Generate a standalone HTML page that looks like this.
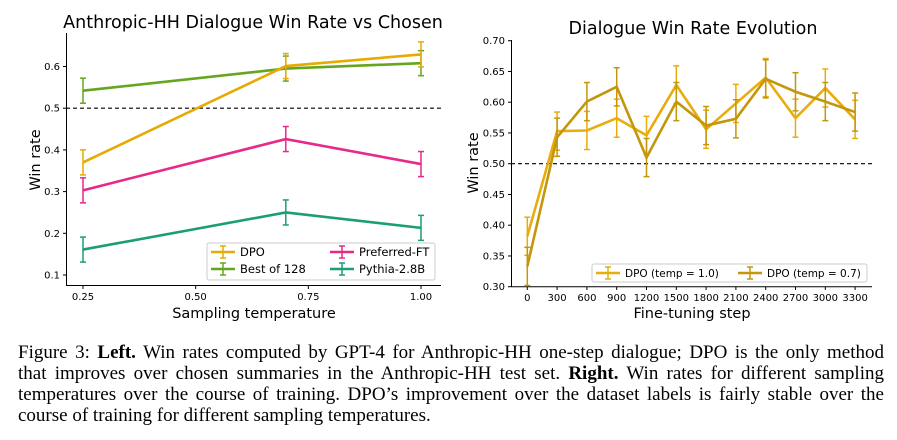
<!DOCTYPE html>
<html><head><meta charset="utf-8"><style>
body{margin:0;background:#fff;width:897px;height:440px;overflow:hidden;position:relative;font-family:"DejaVu Sans",sans-serif}
#cap{position:absolute;left:18px;top:342px;width:866px;font-family:"Liberation Serif",serif;font-size:19px;line-height:21px;color:#000;white-space:nowrap}
#cap div{text-align:justify;text-align-last:justify;white-space:normal}
#cap div.last{text-align-last:left}
</style></head><body>
<svg id="chart" width="897" height="335" style="position:absolute;left:0;top:0" font-family="DejaVu Sans, sans-serif"></svg>
<div id="cap"><div>Figure 3: <b>Left.</b> Win rates computed by GPT-4 for Anthropic-HH one-step dialogue; DPO is the only method</div><div>that improves over chosen summaries in the Anthropic-HH test set. <b>Right.</b> Win rates for different sampling</div><div>temperatures over the course of training. DPO’s improvement over the dataset labels is fairly stable over the</div><div class="last">course of training for different sampling temperatures.</div></div>
<script>
const temps=[0.25,0.7,1.0];
const dpoL=[0.37,0.601,0.629];
const bestL=[0.542,0.595,0.608];
const prefL=[0.303,0.426,0.366];
const pythL=[0.161,0.250,0.213];
const errL=0.030;
const leftYTicks=[0.1,0.2,0.3,0.4,0.5,0.6];
const leftXTicks=[0.25,0.5,0.75,1.0];
const steps=[0,300,600,900,1200,1500,1800,2100,2400,2700,3000,3300];
const t10=[0.382,0.553,0.554,0.574,0.546,0.628,0.556,0.598,0.640,0.574,0.623,0.572];
const t07=[0.333,0.543,0.601,0.625,0.510,0.601,0.562,0.573,0.638,0.617,0.601,0.584];
const errR=0.031;
const rightYTicks=[0.30,0.35,0.40,0.45,0.50,0.55,0.60,0.65,0.70];

const svg=document.getElementById('chart');
const NS='http://www.w3.org/2000/svg';
function mk(tag,attrs,parent){const e=document.createElementNS(NS,tag);for(const k in attrs)e.setAttribute(k,attrs[k]);(parent||svg).appendChild(e);return e;}
function txt(x,y,s,size,anchor,extra){const t=mk('text',Object.assign({x:x,y:y,'font-size':size,'text-anchor':anchor||'middle',fill:'#000'},extra||{}));t.textContent=s;return t;}

// LEFT
const lx=v=>83+(v-0.25)/0.75*338;
const ly=v=>275-(v-0.1)/0.1*41.7;
let g=mk('g',{});


let t=txt(253,28,'Anthropic-HH Dialogue Win Rate vs Chosen',17.5);

mk('line',{x1:66.5,y1:33,x2:66.5,y2:285.5,stroke:'#000','stroke-width':1},g);
mk('line',{x1:66,y1:285.5,x2:441,y2:285.5,stroke:'#000','stroke-width':1},g);
leftYTicks.forEach(v=>{mk('line',{x1:63,x2:66,y1:ly(v),y2:ly(v),stroke:'#000'},g);const e=txt(60,ly(v)+3.5,v.toFixed(1),10,'end');});
leftXTicks.forEach(v=>{mk('line',{x1:lx(v),x2:lx(v),y1:285.5,y2:289,stroke:'#000'},g);const e=txt(lx(v),300,v.toFixed(2),10);});
t=txt(254,318,'Sampling temperature',14.5);
t=txt(40,160,'Win rate',14.5,'middle',{transform:'rotate(-90 40 160)'});
mk('line',{x1:66,x2:441,y1:ly(0.5),y2:ly(0.5),stroke:'#000','stroke-dasharray':'4,3','stroke-width':1.2},g);
function series(xs,ys,err,xf,yf,col,name,w){
  const sg=mk('g',{});
  
  
  xs.forEach((x,i)=>{const X=xf(x);mk('line',{x1:X,x2:X,y1:yf(ys[i]-err),y2:yf(ys[i]+err),stroke:col,'stroke-width':1.5},sg);
   [ys[i]-err,ys[i]+err].forEach(v=>mk('line',{x1:X-3,x2:X+3,y1:yf(v),y2:yf(v),stroke:col,'stroke-width':1.5},sg));});
  mk('polyline',{points:xs.map((x,i)=>xf(x)+','+yf(ys[i])).join(' '),fill:'none',stroke:col,'stroke-width':w||2.6},sg);
}
series(temps,pythL,errL,lx,ly,'#1b9e77','series-pythia');
series(temps,prefL,errL,lx,ly,'#e7298a','series-preferred-ft');
series(temps,bestL,errL,lx,ly,'#66a61e','series-best-of-128');
series(temps,dpoL,errL,lx,ly,'#e6ab02','series-dpo');
function legItem(x,y,col,label,name,fs){
  const lg=mk('g',{});
  
  
  mk('line',{x1:x,x2:x+24,y1:y,y2:y,stroke:col,'stroke-width':2.6},lg);
  mk('line',{x1:x+12,x2:x+12,y1:y-6,y2:y+6,stroke:col,'stroke-width':1.5},lg);
  mk('line',{x1:x+9,x2:x+15,y1:y-6,y2:y-6,stroke:col,'stroke-width':1.5},lg);
  mk('line',{x1:x+9,x2:x+15,y1:y+6,y2:y+6,stroke:col,'stroke-width':1.5},lg);
  const e=mk('text',{x:x+29,y:y+4,'font-size':fs||11.5},lg);e.textContent=label;
}
let lb=mk('rect',{x:207,y:243,width:228,height:37,fill:'#fff',stroke:'#ccc',rx:2});

legItem(211,252,'#e6ab02','DPO','legend-dpo');
legItem(211,269,'#66a61e','Best of 128','legend-best-of-128');
legItem(330,252,'#e7298a','Preferred-FT','legend-preferred-ft');
legItem(330,269,'#1b9e77','Pythia-2.8B','legend-pythia');

// RIGHT
const rx=v=>527.3+v/300*29.8;
const ry=v=>286.7-(v-0.3)/0.05*30.75;
g=mk('g',{});


t=txt(693,34,'Dialogue Win Rate Evolution',17.5);
mk('line',{x1:511.5,y1:40,x2:511.5,y2:287,stroke:'#000'},g);
mk('line',{x1:511,y1:286.7,x2:872,y2:286.7,stroke:'#000'},g);
rightYTicks.forEach(v=>{mk('line',{x1:508,x2:511,y1:ry(v),y2:ry(v),stroke:'#000'},g);const e=txt(505,ry(v)+3.5,v.toFixed(2),10,'end');});
steps.forEach(v=>{mk('line',{x1:rx(v),x2:rx(v),y1:286.7,y2:290,stroke:'#000'},g);const e=txt(rx(v),301,String(v),10);});
t=txt(692,318,'Fine-tuning step',14.5);
t=txt(478,163,'Win rate',14.5,'middle',{transform:'rotate(-90 478 163)'});
mk('line',{x1:511,x2:872,y1:ry(0.5),y2:ry(0.5),stroke:'#000','stroke-dasharray':'4,3','stroke-width':1.2},g);
series(steps,t10,errR,rx,ry,'#e8ad0c','series-temp-1-0');
series(steps,t07,errR,rx,ry,'#c4960c','series-temp-0-7');
lb=mk('rect',{x:592,y:264,width:275,height:18,fill:'#fff',stroke:'#ccc',rx:2});

legItem(596,273,'#e8ad0c','DPO (temp = 1.0)','legend-temp-1-0',10.5);
legItem(738,273,'#c4960c','DPO (temp = 0.7)','legend-temp-0-7',10.5);
</script>
</body></html>
